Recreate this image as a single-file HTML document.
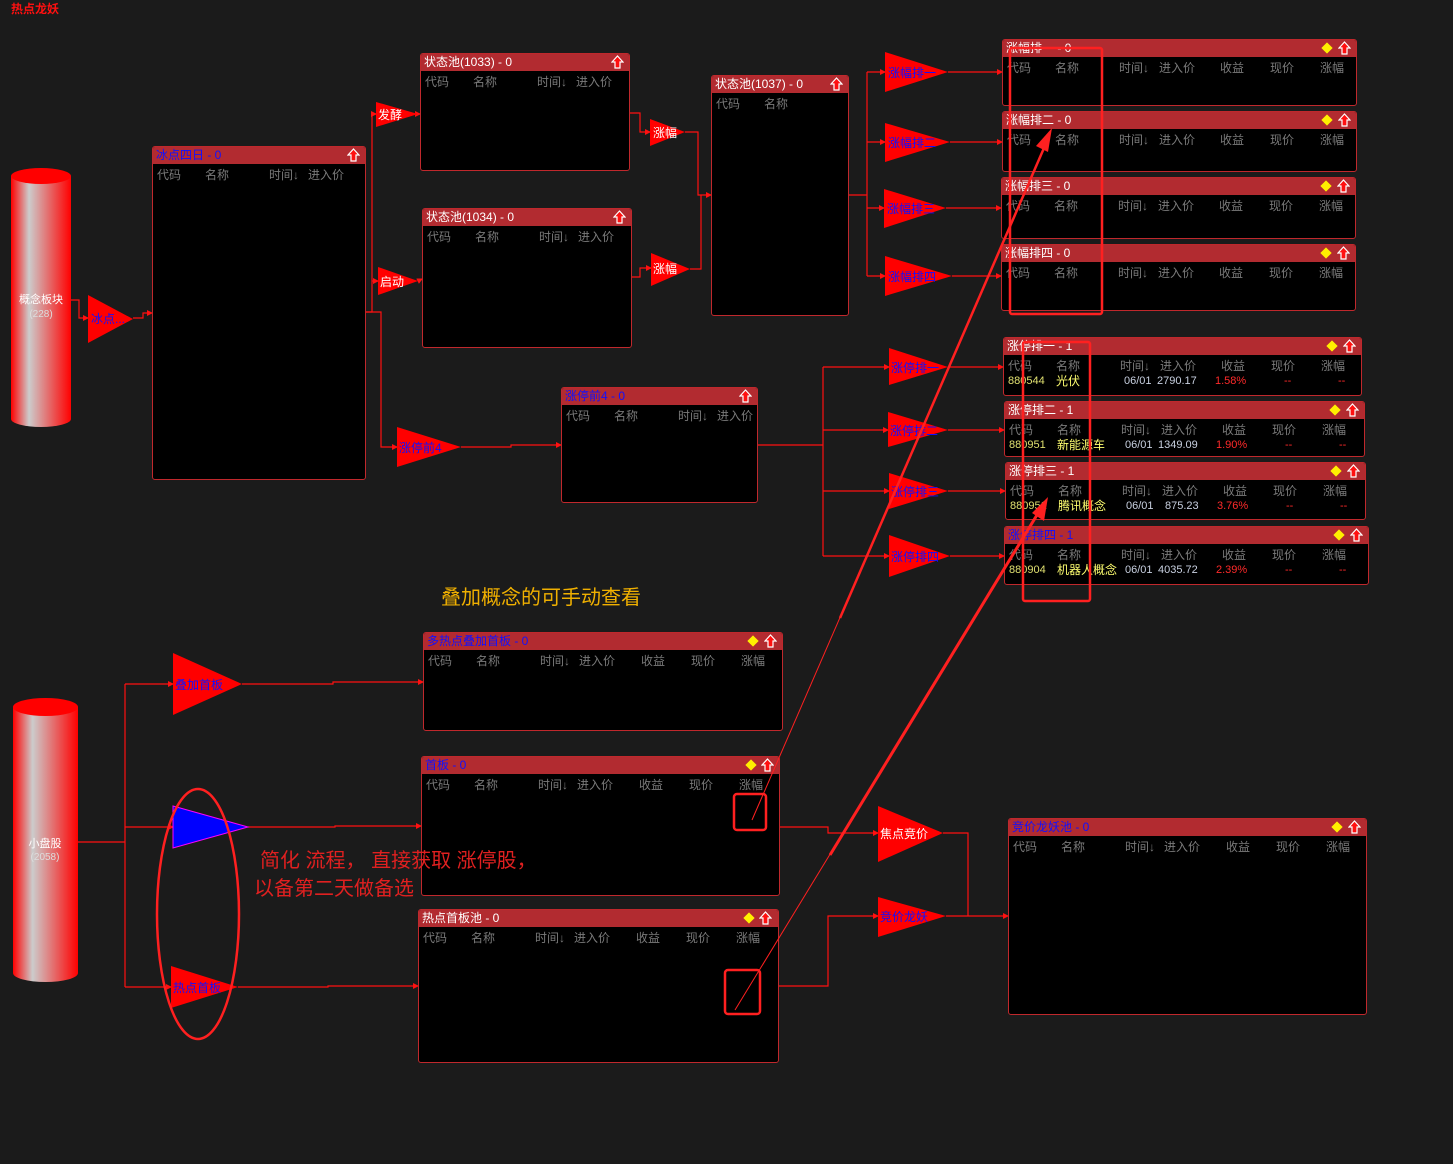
<!DOCTYPE html>
<html><head><meta charset="utf-8">
<style>
body{margin:0;background:#1b1b1b;width:1453px;height:1164px;overflow:hidden;position:relative;font-family:"Liberation Sans","Noto Sans CJK SC",sans-serif;font-size:12px}
.p{position:absolute;background:#000;border:1px solid #c0282c;border-radius:3px;box-sizing:border-box;overflow:hidden}
.h{position:absolute;left:0;top:0;right:0;height:17px;background:#b22b30;color:#fff;line-height:17px;padding-left:3px;white-space:nowrap}
.h.b{color:#1010ff}
.c{position:absolute;top:19px;color:#7a7a7a;white-space:nowrap}
.d{position:absolute;top:36px;white-space:nowrap;font-size:11px;line-height:14px;height:14px}
.d.n{font-size:12px}
.dm{position:absolute;top:4px;width:8px;height:8px;background:#ffef00;transform:rotate(45deg)}
.up{position:absolute;top:1px;width:13px;height:14px}
svg{position:absolute;left:0;top:0}
.t{position:absolute;white-space:nowrap}
</style></head><body>
<svg width="1453" height="1164">
<defs>
<linearGradient id="cg" x1="0" x2="1"><stop offset="0" stop-color="#ff0000"/><stop offset="0.3" stop-color="#cccccc"/><stop offset="1" stop-color="#ff0000"/></linearGradient>
<marker id="a" markerWidth="6" markerHeight="6" refX="5" refY="3" orient="auto" markerUnits="userSpaceOnUse"><path d="M0,0 L6,3 L0,6z" fill="#ff1010"/></marker>
</defs>
<text x="11" y="13" fill="#ff1010" font-size="12" font-weight="bold">热点龙妖</text>
<path d="M11,176 L11,419 A30,8 0 0 0 71,419 L71,176z" fill="url(#cg)"/>
<ellipse cx="41" cy="176" rx="30" ry="8" fill="#ff0000"/>
<text x="41" y="303" fill="#fff" font-size="11" text-anchor="middle">概念板块</text>
<text x="41" y="317" fill="#ddd" font-size="10" text-anchor="middle">(228)</text>
<path d="M13,707 L13,973 A32.5,9 0 0 0 78,973 L78,707z" fill="url(#cg)"/>
<ellipse cx="45.5" cy="707" rx="32.5" ry="9" fill="#ff0000"/>
<text x="45" y="847" fill="#fff" font-size="11" text-anchor="middle">小盘股</text>
<text x="45" y="860" fill="#ddd" font-size="10" text-anchor="middle">(2058)</text>
<g fill="none" stroke="#ff1010" stroke-width="1.2">
<polyline points="71,300 79,300 79,318 88,318" marker-end="url(#a)"/>
<polyline points="133,318 143,318 143,313 152,313" marker-end="url(#a)"/>
<polyline points="365,312 372,312 372,114 376,114" marker-end="url(#a)"/>
<polyline points="372,281 378,281" marker-end="url(#a)"/>
<polyline points="365,312 381,312 381,447 397,447" marker-end="url(#a)"/>
<polyline points="418,114 420,114" marker-end="url(#a)"/>
<polyline points="418,281 422,279" marker-end="url(#a)"/>
<polyline points="461,447 511,447 511,445 561,445" marker-end="url(#a)"/>
<polyline points="629,113 640,113 640,132 650,132" marker-end="url(#a)"/>
<polyline points="631,277 640,277 640,268 651,268" marker-end="url(#a)"/>
<polyline points="685,132 698,132 698,195 711,195" marker-end="url(#a)"/>
<polyline points="690,269 701,269 701,195"/>
<polyline points="848,195 867,195"/>
<line x1="867" y1="72" x2="867" y2="276"/>
<polyline points="867,72 885,72" marker-end="url(#a)"/>
<polyline points="867,142 885,142" marker-end="url(#a)"/>
<polyline points="867,208 884,208" marker-end="url(#a)"/>
<polyline points="867,276 885,276" marker-end="url(#a)"/>
<polyline points="948,72 1002,72" marker-end="url(#a)"/>
<polyline points="950,142 1002,142" marker-end="url(#a)"/>
<polyline points="946,208 1001,208" marker-end="url(#a)"/>
<polyline points="952,276 1001,276" marker-end="url(#a)"/>
<polyline points="757,445 823,445"/>
<line x1="823" y1="367" x2="823" y2="556"/>
<polyline points="823,367 889,367" marker-end="url(#a)"/>
<polyline points="823,430 888,430" marker-end="url(#a)"/>
<polyline points="823,491 889,491" marker-end="url(#a)"/>
<polyline points="823,556 889,556" marker-end="url(#a)"/>
<polyline points="948,367 1003,367" marker-end="url(#a)"/>
<polyline points="948,430 1004,430" marker-end="url(#a)"/>
<polyline points="948,491 1005,491" marker-end="url(#a)"/>
<polyline points="950,556 1004,556" marker-end="url(#a)"/>
<polyline points="78,842 125,842"/>
<line x1="125" y1="684" x2="125" y2="987"/>
<polyline points="125,684 173,684" marker-end="url(#a)"/>
<polyline points="125,827 173,827" marker-end="url(#a)"/>
<polyline points="125,987 171,987" marker-end="url(#a)"/>
<polyline points="242,684 333,684 333,682 423,682" marker-end="url(#a)"/>
<polyline points="248,827 335,827 335,826 421,826" marker-end="url(#a)"/>
<polyline points="238,987 328,987 328,986 418,986" marker-end="url(#a)"/>
<polyline points="779,827 828,827 828,833 878,833" marker-end="url(#a)"/>
<polyline points="943,833 968,833 968,916"/>
<polyline points="778,986 828,986 828,916 878,916" marker-end="url(#a)"/>
<polyline points="946,916 1008,916" marker-end="url(#a)"/>
</g>
<g fill="#ff0000">
<polygon points="88,295 133,319 88,343"/>
<polygon points="376,102 418,114 376,127"/>
<polygon points="378,267 418,281 378,295"/>
<polygon points="397,427 461,447 397,467"/>
<polygon points="650,119 685,132 650,146"/>
<polygon points="651,253 690,269 651,286"/>
<polygon points="885,52 948,72 885,92"/>
<polygon points="885,123 950,142 885,162"/>
<polygon points="884,189 946,208 884,228"/>
<polygon points="885,256 952,276 885,296"/>
<polygon points="889,348 948,367 889,385"/>
<polygon points="888,412 948,430 888,447"/>
<polygon points="889,473 948,491 889,509"/>
<polygon points="889,535 950,556 889,577"/>
<polygon points="173,653 242,684 173,715"/>
<polygon points="171,966 238,987 171,1008"/>
<polygon points="878,806 943,833 878,862"/>
<polygon points="878,897 946,916 878,937"/>
</g>
<polygon points="173,806 248,827 173,848" fill="#0000ff" stroke="#ff00ff" stroke-width="1"/>
<g font-size="12">
<text x="91" y="323" fill="#1010ff">冰点...</text>
<text x="378" y="119" fill="#fff">发酵</text>
<text x="380" y="286" fill="#fff">启动</text>
<text x="399" y="452" fill="#1010ff">涨停前4</text>
<text x="653" y="137" fill="#fff">涨幅</text>
<text x="653" y="273" fill="#fff">涨幅</text>
<text x="888" y="77" fill="#1010ff">涨幅排一</text>
<text x="888" y="147" fill="#1010ff">涨幅排二</text>
<text x="887" y="213" fill="#1010ff">涨幅排三</text>
<text x="888" y="281" fill="#1010ff">涨幅排四</text>
<text x="891" y="372" fill="#1010ff">涨停排一</text>
<text x="890" y="435" fill="#1010ff">涨停排二</text>
<text x="891" y="496" fill="#1010ff">涨停排三</text>
<text x="891" y="561" fill="#1010ff">涨停排四</text>
<text x="175" y="689" fill="#1010ff">叠加首板</text>
<text x="173" y="992" fill="#1010ff">热点首板</text>
<text x="880" y="838" fill="#fff">焦点竞价</text>
<text x="880" y="921" fill="#1010ff">竞价龙妖</text>
</g>
<text x="441" y="604" fill="#f0b000" font-size="20">叠加概念的可手动查看</text>
</svg>

<div class="p" style="left:152px;top:146px;width:214px;height:334px"><div class="h b">冰点四日 - 0</div>
<span class="c" style="left:4px">代码</span><span class="c" style="left:52px">名称</span><span class="c" style="left:116px">时间↓</span><span class="c" style="left:155px">进入价</span>
<svg class="up" style="left:194px;top:1px" viewBox="0 0 13 14"><path d="M6.5,1 L12,7 L9,7 L9,13 L4,13 L4,7 L1,7z" fill="#ff1010" stroke="#fff" stroke-width="1.2"/></svg></div>

<div class="p" style="left:420px;top:53px;width:210px;height:118px"><div class="h">状态池(1033) - 0</div>
<span class="c" style="left:4px">代码</span><span class="c" style="left:52px">名称</span><span class="c" style="left:116px">时间↓</span><span class="c" style="left:155px">进入价</span>
<svg class="up" style="left:190px" viewBox="0 0 13 14"><path d="M6.5,1 L12,7 L9,7 L9,13 L4,13 L4,7 L1,7z" fill="#ff1010" stroke="#fff" stroke-width="1.2"/></svg></div>

<div class="p" style="left:422px;top:208px;width:210px;height:140px"><div class="h">状态池(1034) - 0</div>
<span class="c" style="left:4px">代码</span><span class="c" style="left:52px">名称</span><span class="c" style="left:116px">时间↓</span><span class="c" style="left:155px">进入价</span>
<svg class="up" style="left:190px" viewBox="0 0 13 14"><path d="M6.5,1 L12,7 L9,7 L9,13 L4,13 L4,7 L1,7z" fill="#ff1010" stroke="#fff" stroke-width="1.2"/></svg></div>

<div class="p" style="left:711px;top:75px;width:138px;height:241px"><div class="h">状态池(1037) - 0</div>
<span class="c" style="left:4px">代码</span><span class="c" style="left:52px">名称</span>
<svg class="up" style="left:118px" viewBox="0 0 13 14"><path d="M6.5,1 L12,7 L9,7 L9,13 L4,13 L4,7 L1,7z" fill="#ff1010" stroke="#fff" stroke-width="1.2"/></svg></div>

<div class="p" style="left:561px;top:387px;width:197px;height:116px"><div class="h b">涨停前4 - 0</div>
<span class="c" style="left:4px">代码</span><span class="c" style="left:52px">名称</span><span class="c" style="left:116px">时间↓</span><span class="c" style="left:155px">进入价</span>
<svg class="up" style="left:177px" viewBox="0 0 13 14"><path d="M6.5,1 L12,7 L9,7 L9,13 L4,13 L4,7 L1,7z" fill="#ff1010" stroke="#fff" stroke-width="1.2"/></svg></div>

<div class="p" style="left:1002px;top:39px;width:355px;height:67px"><div class="h">涨幅排一 - 0</div>
<span class="c" style="left:4px">代码</span><span class="c" style="left:52px">名称</span><span class="c" style="left:116px">时间↓</span><span class="c" style="left:156px">进入价</span><span class="c" style="left:217px">收益</span><span class="c" style="left:267px">现价</span><span class="c" style="left:317px">涨幅</span>
<div class="dm" style="left:320px"></div><svg class="up" style="left:335px" viewBox="0 0 13 14"><path d="M6.5,1 L12,7 L9,7 L9,13 L4,13 L4,7 L1,7z" fill="#ff1010" stroke="#fff" stroke-width="1.2"/></svg></div>

<div class="p" style="left:1002px;top:111px;width:355px;height:61px"><div class="h">涨幅排二 - 0</div>
<span class="c" style="left:4px">代码</span><span class="c" style="left:52px">名称</span><span class="c" style="left:116px">时间↓</span><span class="c" style="left:156px">进入价</span><span class="c" style="left:217px">收益</span><span class="c" style="left:267px">现价</span><span class="c" style="left:317px">涨幅</span>
<div class="dm" style="left:320px"></div><svg class="up" style="left:335px" viewBox="0 0 13 14"><path d="M6.5,1 L12,7 L9,7 L9,13 L4,13 L4,7 L1,7z" fill="#ff1010" stroke="#fff" stroke-width="1.2"/></svg></div>

<div class="p" style="left:1001px;top:177px;width:355px;height:62px"><div class="h">涨幅排三 - 0</div>
<span class="c" style="left:4px">代码</span><span class="c" style="left:52px">名称</span><span class="c" style="left:116px">时间↓</span><span class="c" style="left:156px">进入价</span><span class="c" style="left:217px">收益</span><span class="c" style="left:267px">现价</span><span class="c" style="left:317px">涨幅</span>
<div class="dm" style="left:320px"></div><svg class="up" style="left:335px" viewBox="0 0 13 14"><path d="M6.5,1 L12,7 L9,7 L9,13 L4,13 L4,7 L1,7z" fill="#ff1010" stroke="#fff" stroke-width="1.2"/></svg></div>

<div class="p" style="left:1001px;top:244px;width:355px;height:67px"><div class="h">涨幅排四 - 0</div>
<span class="c" style="left:4px">代码</span><span class="c" style="left:52px">名称</span><span class="c" style="left:116px">时间↓</span><span class="c" style="left:156px">进入价</span><span class="c" style="left:217px">收益</span><span class="c" style="left:267px">现价</span><span class="c" style="left:317px">涨幅</span>
<div class="dm" style="left:320px"></div><svg class="up" style="left:335px" viewBox="0 0 13 14"><path d="M6.5,1 L12,7 L9,7 L9,13 L4,13 L4,7 L1,7z" fill="#ff1010" stroke="#fff" stroke-width="1.2"/></svg></div>

<div class="p" style="left:1003px;top:337px;width:359px;height:59px"><div class="h">涨停排一 - 1</div>
<span class="c" style="left:4px">代码</span><span class="c" style="left:52px">名称</span><span class="c" style="left:116px">时间↓</span><span class="c" style="left:156px">进入价</span><span class="c" style="left:217px">收益</span><span class="c" style="left:267px">现价</span><span class="c" style="left:317px">涨幅</span>
<span class="d" style="left:4px;color:#e0e070">880544</span><span class="d n" style="left:52px;color:#ffff70">光伏</span><span class="d" style="left:120px;color:#c8d0e0">06/01</span><span class="d" style="left:153px;color:#c8d0e0">2790.17</span><span class="d" style="left:211px;color:#ff2a2a">1.58%</span><span class="d" style="left:280px;color:#ff2a2a">--</span><span class="d" style="left:334px;color:#ff2a2a">--</span>
<div class="dm" style="left:324px"></div><svg class="up" style="left:339px" viewBox="0 0 13 14"><path d="M6.5,1 L12,7 L9,7 L9,13 L4,13 L4,7 L1,7z" fill="#ff1010" stroke="#fff" stroke-width="1.2"/></svg></div>

<div class="p" style="left:1004px;top:401px;width:361px;height:56px"><div class="h">涨停排二 - 1</div>
<span class="c" style="left:4px">代码</span><span class="c" style="left:52px">名称</span><span class="c" style="left:116px">时间↓</span><span class="c" style="left:156px">进入价</span><span class="c" style="left:217px">收益</span><span class="c" style="left:267px">现价</span><span class="c" style="left:317px">涨幅</span>
<span class="d" style="left:4px;color:#e0e070">880951</span><span class="d n" style="left:52px;color:#ffff70">新能源车</span><span class="d" style="left:120px;color:#c8d0e0">06/01</span><span class="d" style="left:153px;color:#c8d0e0">1349.09</span><span class="d" style="left:211px;color:#ff2a2a">1.90%</span><span class="d" style="left:280px;color:#ff2a2a">--</span><span class="d" style="left:334px;color:#ff2a2a">--</span>
<div class="dm" style="left:326px"></div><svg class="up" style="left:341px" viewBox="0 0 13 14"><path d="M6.5,1 L12,7 L9,7 L9,13 L4,13 L4,7 L1,7z" fill="#ff1010" stroke="#fff" stroke-width="1.2"/></svg></div>

<div class="p" style="left:1005px;top:462px;width:361px;height:58px"><div class="h">涨停排三 - 1</div>
<span class="c" style="left:4px">代码</span><span class="c" style="left:52px">名称</span><span class="c" style="left:116px">时间↓</span><span class="c" style="left:156px">进入价</span><span class="c" style="left:217px">收益</span><span class="c" style="left:267px">现价</span><span class="c" style="left:317px">涨幅</span>
<span class="d" style="left:4px;color:#e0e070">880951</span><span class="d n" style="left:52px;color:#ffff70">腾讯概念</span><span class="d" style="left:120px;color:#c8d0e0">06/01</span><span class="d" style="left:159px;color:#c8d0e0">875.23</span><span class="d" style="left:211px;color:#ff2a2a">3.76%</span><span class="d" style="left:280px;color:#ff2a2a">--</span><span class="d" style="left:334px;color:#ff2a2a">--</span>
<div class="dm" style="left:326px"></div><svg class="up" style="left:341px" viewBox="0 0 13 14"><path d="M6.5,1 L12,7 L9,7 L9,13 L4,13 L4,7 L1,7z" fill="#ff1010" stroke="#fff" stroke-width="1.2"/></svg></div>

<div class="p" style="left:1004px;top:526px;width:365px;height:59px"><div class="h b">涨停排四 - 1</div>
<span class="c" style="left:4px">代码</span><span class="c" style="left:52px">名称</span><span class="c" style="left:116px">时间↓</span><span class="c" style="left:156px">进入价</span><span class="c" style="left:217px">收益</span><span class="c" style="left:267px">现价</span><span class="c" style="left:317px">涨幅</span>
<span class="d" style="left:4px;color:#e0e070">880904</span><span class="d n" style="left:52px;color:#ffff70">机器人概念</span><span class="d" style="left:120px;color:#c8d0e0">06/01</span><span class="d" style="left:153px;color:#c8d0e0">4035.72</span><span class="d" style="left:211px;color:#ff2a2a">2.39%</span><span class="d" style="left:280px;color:#ff2a2a">--</span><span class="d" style="left:334px;color:#ff2a2a">--</span>
<div class="dm" style="left:330px"></div><svg class="up" style="left:345px" viewBox="0 0 13 14"><path d="M6.5,1 L12,7 L9,7 L9,13 L4,13 L4,7 L1,7z" fill="#ff1010" stroke="#fff" stroke-width="1.2"/></svg></div>

<div class="p" style="left:423px;top:632px;width:360px;height:99px"><div class="h b">多热点叠加首板 - 0</div>
<span class="c" style="left:4px">代码</span><span class="c" style="left:52px">名称</span><span class="c" style="left:116px">时间↓</span><span class="c" style="left:155px">进入价</span><span class="c" style="left:217px">收益</span><span class="c" style="left:267px">现价</span><span class="c" style="left:317px">涨幅</span>
<div class="dm" style="left:325px"></div><svg class="up" style="left:340px" viewBox="0 0 13 14"><path d="M6.5,1 L12,7 L9,7 L9,13 L4,13 L4,7 L1,7z" fill="#ff1010" stroke="#fff" stroke-width="1.2"/></svg></div>

<div class="p" style="left:421px;top:756px;width:359px;height:140px"><div class="h b">首板 - 0</div>
<span class="c" style="left:4px">代码</span><span class="c" style="left:52px">名称</span><span class="c" style="left:116px">时间↓</span><span class="c" style="left:155px">进入价</span><span class="c" style="left:217px">收益</span><span class="c" style="left:267px">现价</span><span class="c" style="left:317px">涨幅</span>
<div class="dm" style="left:325px"></div><svg class="up" style="left:339px" viewBox="0 0 13 14"><path d="M6.5,1 L12,7 L9,7 L9,13 L4,13 L4,7 L1,7z" fill="#ff1010" stroke="#fff" stroke-width="1.2"/></svg></div>

<div class="p" style="left:418px;top:909px;width:361px;height:154px"><div class="h">热点首板池 - 0</div>
<span class="c" style="left:4px">代码</span><span class="c" style="left:52px">名称</span><span class="c" style="left:116px">时间↓</span><span class="c" style="left:155px">进入价</span><span class="c" style="left:217px">收益</span><span class="c" style="left:267px">现价</span><span class="c" style="left:317px">涨幅</span>
<div class="dm" style="left:326px"></div><svg class="up" style="left:340px" viewBox="0 0 13 14"><path d="M6.5,1 L12,7 L9,7 L9,13 L4,13 L4,7 L1,7z" fill="#ff1010" stroke="#fff" stroke-width="1.2"/></svg></div>

<div class="p" style="left:1008px;top:818px;width:359px;height:197px"><div class="h b">竞价龙妖池 - 0</div>
<span class="c" style="left:4px">代码</span><span class="c" style="left:52px">名称</span><span class="c" style="left:116px">时间↓</span><span class="c" style="left:155px">进入价</span><span class="c" style="left:217px">收益</span><span class="c" style="left:267px">现价</span><span class="c" style="left:317px">涨幅</span>
<div class="dm" style="left:324px"></div><svg class="up" style="left:339px" viewBox="0 0 13 14"><path d="M6.5,1 L12,7 L9,7 L9,13 L4,13 L4,7 L1,7z" fill="#ff1010" stroke="#fff" stroke-width="1.2"/></svg></div>

<div class="t" style="left:260px;top:844px;color:#e02020;font-size:20px">简化 流程， 直接获取 涨停股，</div>
<div class="t" style="left:254px;top:872px;color:#e02020;font-size:20px">以备第二天做备选</div>

<svg width="1453" height="1164" style="pointer-events:none">
<g fill="none" stroke="#ff2020">
<ellipse cx="198" cy="914" rx="41" ry="125" stroke-width="2.5"/>
<rect x="734" y="794" width="32" height="36" rx="3" stroke-width="2.5"/>
<rect x="725" y="970" width="35" height="44" rx="3" stroke-width="2.5"/>
<rect x="1010" y="48" width="92" height="266" rx="2" stroke-width="2.5"/>
<rect x="1023" y="342" width="67" height="259" rx="2" stroke-width="2.5"/>
</g>
<path d="M752,820 L1044,148" stroke="#ff2020" stroke-width="1"/>
<path d="M840,618 L1044,148" stroke="#ff2020" stroke-width="2.5"/>
<polygon points="1052,128 1048,152 1036,146" fill="#ff2020"/>
<path d="M735,1010 L1040,510" stroke="#ff2020" stroke-width="1"/>
<path d="M830,855 L1040,510" stroke="#ff2020" stroke-width="3"/>
<polygon points="1048,497 1044,521 1032,513" fill="#ff2020"/>
</svg>
</body></html>
